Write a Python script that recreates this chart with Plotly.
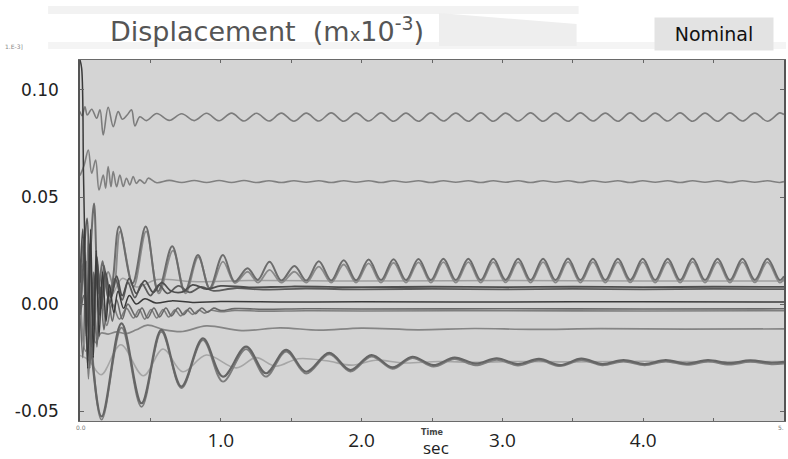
import plotly.graph_objects as go

# ---------------- data ----------------
# shared time grid for the steady oscillation section (s)
T_OSC = [
    0.545, 0.634, 0.722, 0.811, 0.899, 0.988, 1.076, 1.165, 1.253, 1.342,
    1.430, 1.519, 1.607, 1.696, 1.784, 1.873, 1.961, 2.050, 2.138, 2.227,
    2.315, 2.404, 2.492, 2.581, 2.669, 2.758, 2.846, 2.935, 3.023, 3.112,
    3.200, 3.289, 3.377, 3.466, 3.554, 3.643, 3.731, 3.820, 3.908, 3.997,
    4.085, 4.174, 4.262, 4.351, 4.439, 4.528, 4.616, 4.705, 4.793, 4.882,
    4.970, 5.000]

# top line (~0.087)
A_EARLY_T = [0.000, 0.015, 0.035, 0.052, 0.083, 0.118, 0.142, 0.165, 0.200, 0.236,
             0.271, 0.302, 0.335, 0.366, 0.390, 0.425, 0.472]
A_EARLY_V = [0.0900, 0.0880, 0.0922, 0.0883, 0.0910, 0.0868, 0.0907, 0.0790, 0.0919, 0.0829,
             0.0899, 0.0863, 0.0883, 0.0907, 0.0832, 0.0875, 0.0857]
A_STEADY = [
    0.0890, 0.0858, 0.0889, 0.0857, 0.0891, 0.0856, 0.0892, 0.0855, 0.0891, 0.0855,
    0.0892, 0.0854, 0.0892, 0.0855, 0.0893, 0.0854, 0.0892, 0.0855, 0.0893, 0.0854,
    0.0892, 0.0854, 0.0893, 0.0855, 0.0892, 0.0854, 0.0893, 0.0854, 0.0892, 0.0855,
    0.0893, 0.0854, 0.0892, 0.0854, 0.0893, 0.0855, 0.0892, 0.0854, 0.0893, 0.0854,
    0.0892, 0.0855, 0.0893, 0.0854, 0.0892, 0.0854, 0.0893, 0.0855, 0.0892, 0.0854,
    0.0893, 0.0885]

# second line (~0.057)
B_EARLY_T = [0.000, 0.030, 0.059, 0.083, 0.111, 0.135, 0.165, 0.182, 0.200, 0.220,
             0.236, 0.260, 0.283, 0.307, 0.330, 0.354, 0.378, 0.400, 0.425, 0.460, 0.484]
B_EARLY_V = [0.0600, 0.0650, 0.0720, 0.0611, 0.0673, 0.0533, 0.0603, 0.0541, 0.0642, 0.0548,
             0.0619, 0.0548, 0.0603, 0.0549, 0.0588, 0.0557, 0.0596, 0.0564, 0.0580, 0.0564, 0.0588]
B_STEADY = [
    0.0567, 0.0578, 0.0568, 0.0577, 0.0568, 0.0577, 0.0568, 0.0577, 0.0568, 0.0576,
    0.0568, 0.0576, 0.0569, 0.0576, 0.0568, 0.0576, 0.0569, 0.0576, 0.0568, 0.0576,
    0.0569, 0.0576, 0.0568, 0.0576, 0.0569, 0.0576, 0.0568, 0.0576, 0.0569, 0.0576,
    0.0568, 0.0576, 0.0569, 0.0576, 0.0568, 0.0576, 0.0569, 0.0576, 0.0568, 0.0576,
    0.0569, 0.0576, 0.0568, 0.0576, 0.0569, 0.0576, 0.0568, 0.0576, 0.0569, 0.0576,
    0.0568, 0.0572]

# upper oscillating pair (~0.016)
U1_EARLY_T = [0.000, 0.025, 0.050, 0.075, 0.100, 0.130, 0.160, 0.200, 0.230, 0.278,
              0.373, 0.467, 0.555, 0.655, 0.744, 0.838, 0.920, 1.015, 1.098, 1.190,
              1.263, 1.346, 1.430, 1.523, 1.607]
U1_EARLY_V = [0.0000, 0.0300, -0.0080, 0.0250, 0.0470, 0.0050, 0.0200, 0.0030, 0.0097, 0.0362,
              0.0097, 0.0362, 0.0060, 0.0270, 0.0058, 0.0229, 0.0074, 0.0229, 0.0105, 0.0167,
              0.0113, 0.0198, 0.0110, 0.0178, 0.0110]
U1_STEADY = [
    0.0200, 0.0110, 0.0205, 0.0111, 0.0208, 0.0112, 0.0210,
    0.0112, 0.0211, 0.0112, 0.0212, 0.0112, 0.0212, 0.0112, 0.0212, 0.0113, 0.0212,
    0.0112, 0.0212, 0.0112, 0.0213, 0.0112, 0.0212, 0.0112, 0.0212, 0.0113, 0.0212,
    0.0112, 0.0212, 0.0112, 0.0213, 0.0112, 0.0212, 0.0112, 0.0212, 0.0113, 0.0212,
    0.0112, 0.0130]

U2_EARLY_T = [0.000, 0.030, 0.060, 0.090, 0.120, 0.150, 0.200, 0.240, 0.285, 0.380,
              0.470, 0.560, 0.660, 0.750, 0.840, 0.925, 1.015, 1.100, 1.190, 1.265,
              1.346, 1.430, 1.523, 1.607]
U2_EARLY_V = [0.0050, -0.0200, 0.0300, -0.0150, 0.0200, 0.0000, 0.0150, 0.0080, 0.0340, 0.0080,
              0.0340, 0.0050, 0.0250, 0.0050, 0.0220, 0.0070, 0.0198, 0.0098, 0.0151, 0.0100,
              0.0160, 0.0100, 0.0151, 0.0100]
U2_STEADY = [
    0.0175, 0.0100, 0.0185, 0.0100, 0.0190, 0.0100, 0.0193,
    0.0100, 0.0195, 0.0100, 0.0196, 0.0100, 0.0196, 0.0100, 0.0196, 0.0101, 0.0196,
    0.0100, 0.0196, 0.0100, 0.0197, 0.0100, 0.0196, 0.0100, 0.0196, 0.0101, 0.0196,
    0.0100, 0.0196, 0.0100, 0.0197, 0.0100, 0.0196, 0.0100, 0.0196, 0.0101, 0.0196,
    0.0100, 0.0118]

# faint flat line (~0.011)
F1_T = [0.000, 0.050, 0.100, 0.150, 0.220, 0.300, 0.400, 0.550, 0.800, 1.200, 2.000, 3.000, 4.000, 5.000]
F1_V = [0.0000, 0.0200, -0.0100, 0.0150, 0.0040, 0.0120, 0.0080, 0.0115, 0.0105, 0.0110, 0.0108, 0.0110, 0.0108, 0.0108]

# dark flat lines (~0.0075)
D1_T = [0.000, 0.020, 0.045, 0.070, 0.095, 0.120, 0.150, 0.180, 0.220, 0.260,
        0.300, 0.350, 0.400, 0.460, 0.520, 0.580, 0.650, 0.730, 0.800, 0.900,
        1.000, 1.200, 1.500, 2.000, 2.500, 3.000, 3.500, 4.000, 4.500, 5.000]
D1_V = [0.0100, 0.0350, -0.0150, 0.0280, -0.0100, 0.0220, -0.0020, 0.0150, 0.0030, 0.0130,
        0.0040, 0.0120, 0.0050, 0.0110, 0.0055, 0.0100, 0.0060, 0.0057, 0.0090, 0.0070,
        0.0085, 0.0078, 0.0082, 0.0079, 0.0081, 0.0079, 0.0081, 0.0079, 0.0081, 0.0080]
D2_T = [0.000, 0.025, 0.050, 0.080, 0.110, 0.140, 0.170, 0.210, 0.250, 0.300,
        0.340, 0.390, 0.440, 0.500, 0.560, 0.620, 0.700, 0.780, 0.860, 0.950,
        1.100, 1.300, 1.600, 2.000, 2.500, 3.000, 3.500, 4.000, 4.500, 5.000]
D2_V = [-0.0050, 0.0200, 0.0400, -0.0200, 0.0150, -0.0050, 0.0180, 0.0000, 0.0120, 0.0020,
        0.0100, 0.0030, 0.0095, 0.0040, 0.0090, 0.0050, 0.0085, 0.0055, 0.0080, 0.0062,
        0.0074, 0.0068, 0.0072, 0.0069, 0.0071, 0.0069, 0.0071, 0.0069, 0.0071, 0.0070]

# line near zero, starting from the top spike (~0.001)
M1_T = [0.000, 0.012, 0.025, 0.040, 0.055, 0.075, 0.095, 0.115, 0.135, 0.160,
        0.185, 0.210, 0.240, 0.270, 0.310, 0.350, 0.400, 0.460, 0.540, 0.650,
        0.800, 1.000, 1.500, 2.000, 3.000, 4.000, 5.000]
M1_V = [0.1140, 0.1100, 0.0600, 0.0100, -0.0300, 0.0350, -0.0250, 0.0250, -0.0150, 0.0150,
        -0.0080, 0.0090, -0.0040, 0.0060, -0.0020, 0.0040, 0.0000, 0.0025, 0.0005, 0.0015,
        0.0008, 0.0012, 0.0010, 0.0011, 0.0010, 0.0011, 0.0010]

# rippled lines (~-0.0025)
M2_T = [0.000, 0.020, 0.045, 0.070, 0.095, 0.120, 0.145, 0.170, 0.200, 0.230,
        0.260, 0.300, 0.340, 0.400, 0.440, 0.480, 0.525, 0.565, 0.610, 0.650,
        0.695, 0.735, 0.780, 0.820, 0.865, 0.905, 0.950, 1.000, 1.100, 1.300,
        1.600, 2.000, 3.000, 4.000, 5.000]
M2_V = [0.0000, -0.0250, 0.0200, -0.0300, 0.0150, -0.0200, 0.0080, -0.0120, 0.0040, -0.0080,
        0.0020, -0.0070, 0.0000, -0.0060, -0.0018, -0.0065, -0.0018, -0.0060, -0.0018, -0.0055,
        -0.0018, -0.0050, -0.0018, -0.0045, -0.0018, -0.0038, -0.0019, -0.0030, -0.0021, -0.0024,
        -0.0022, -0.0023, -0.0022, -0.0023, -0.0022]
M3_T = [0.000, 0.030, 0.060, 0.090, 0.120, 0.150, 0.190, 0.230, 0.280, 0.330,
        0.380, 0.420, 0.460, 0.505, 0.545, 0.590, 0.630, 0.675, 0.715, 0.760,
        0.800, 0.845, 0.885, 0.930, 1.000, 1.100, 1.300, 1.600, 2.000, 3.000,
        4.000, 5.000]
M3_V = [-0.0100, 0.0150, -0.0350, 0.0100, -0.0150, 0.0050, -0.0100, 0.0000, -0.0070, -0.0020,
        -0.0065, -0.0025, -0.0070, -0.0025, -0.0065, -0.0025, -0.0060, -0.0027, -0.0055, -0.0028,
        -0.0048, -0.0028, -0.0042, -0.0029, -0.0036, -0.0030, -0.0033, -0.0031, -0.0032, -0.0031,
        -0.0032, -0.0031]

# wavy line (~-0.0116)
W_T = [0.000, 0.040, 0.080, 0.110, 0.150, 0.200, 0.260, 0.330, 0.400, 0.480,
       0.600, 0.730, 0.897, 1.150, 1.420, 1.700, 2.000, 2.400, 2.800, 3.200,
       3.700, 4.300, 5.000]
W_V = [-0.0050, -0.0220, -0.0100, -0.0180, -0.0135, -0.0140, -0.0130, -0.0138, -0.0120, -0.0098,
       -0.0120, -0.0128, -0.0102, -0.0124, -0.0111, -0.0122, -0.0112, -0.0120, -0.0114, -0.0118,
       -0.0115, -0.0117, -0.0116]

# lower decaying group (~-0.027)
L_T = [0.000, 0.030, 0.153, 0.295, 0.437, 0.578, 0.720, 0.873, 1.015, 1.180,
       1.320, 1.464, 1.606, 1.770, 1.920, 2.070, 2.220, 2.360, 2.510, 2.660,
       2.810, 2.960, 3.110, 3.260, 3.410, 3.560, 3.710, 3.860, 4.010, 4.160,
       4.310, 4.460, 4.610, 4.760, 4.910, 5.000]
L1_V = [-0.0050, 0.0040, -0.0525, -0.0090, -0.0463, -0.0120, -0.0385, -0.0160, -0.0339, -0.0199,
        -0.0323, -0.0214, -0.0316, -0.0228, -0.0308, -0.0238, -0.0296, -0.0246, -0.0285, -0.0250,
        -0.0278, -0.0253, -0.0280, -0.0256, -0.0285, -0.0255, -0.0280, -0.0262, -0.0280, -0.0262,
        -0.0278, -0.0262, -0.0276, -0.0263, -0.0274, -0.0270]
L2_V = [0.0200, 0.0160, -0.0540, -0.0110, -0.0480, -0.0130, -0.0392, -0.0168, -0.0362, -0.0210,
        -0.0339, -0.0222, -0.0325, -0.0235, -0.0315, -0.0245, -0.0302, -0.0252, -0.0292, -0.0257,
        -0.0286, -0.0260, -0.0287, -0.0263, -0.0290, -0.0262, -0.0286, -0.0268, -0.0286, -0.0268,
        -0.0284, -0.0269, -0.0283, -0.0270, -0.0281, -0.0278]
L3_T = [0.000, 0.060, 0.150, 0.290, 0.450, 0.590, 0.730, 0.897, 1.110, 1.250,
        1.390, 1.550, 1.750, 1.930, 2.100, 2.300, 2.550, 2.800, 3.100, 3.500,
        4.000, 4.500, 5.000]
L3_V = [-0.0240, -0.0260, -0.0330, -0.0190, -0.0335, -0.0210, -0.0316, -0.0238, -0.0298, -0.0250,
        -0.0290, -0.0255, -0.0265, -0.0285, -0.0262, -0.0275, -0.0268, -0.0272, -0.0268, -0.0270,
        -0.0267, -0.0269, -0.0268]

Y_TICKS = [0.10, 0.05, 0.00, -0.05]
Y_LABELS = ["0.10", "0.05", "0.00", "-0.05"]
X_TICKS = [1, 2, 3, 4]
X_LABELS = ["1.0", "2.0", "3.0", "4.0"]

# ---------------- figure ----------------
fig = go.Figure()

def add_line(t, v, color, width):
    assert len(t) == len(v)
    fig.add_trace(go.Scatter(
        x=t, y=v, mode="lines", hoverinfo="skip", showlegend=False,
        line=dict(color=color, width=width, shape="spline", smoothing=1.0)))

add_line(L3_T, L3_V, "#a6a6a6", 1.6)
add_line(F1_T, F1_V, "#a0a0a0", 1.5)
add_line(A_EARLY_T + T_OSC, A_EARLY_V + A_STEADY, "#7c7c7c", 1.6)
add_line(B_EARLY_T + T_OSC, B_EARLY_V + B_STEADY, "#808080", 1.6)
add_line(W_T, W_V, "#858585", 1.7)
add_line(M3_T, M3_V, "#7e7e7e", 1.6)
add_line(M2_T, M2_V, "#686868", 1.6)
add_line(U2_EARLY_T + T_OSC[13:], U2_EARLY_V + U2_STEADY, "#8a8a8a", 1.8)
add_line(U1_EARLY_T + T_OSC[13:], U1_EARLY_V + U1_STEADY, "#6c6c6c", 2.0)
add_line(L_T, L2_V, "#7d7d7d", 1.8)
add_line(L_T, L1_V, "#656565", 2.2)
add_line(D2_T, D2_V, "#5c5c5c", 1.8)
add_line(D1_T, D1_V, "#4e4e4e", 1.8)
add_line(M1_T, M1_V, "#3a3a3a", 1.5)

L, R, T, B = 80, 2, 60, 38
W_FIG, H_FIG = 788, 459
PW, PH = W_FIG - L - R, H_FIG - T - B

def px(x):
    return (x - L) / PW

def py(y):
    return (H_FIG - B - y) / PH

fig.update_layout(
    width=W_FIG, height=H_FIG, autosize=False,
    margin=dict(l=L, r=R, t=T, b=B),
    paper_bgcolor="white", plot_bgcolor="#d4d4d4",
    showlegend=False,
    xaxis=dict(range=[0, 5], tickvals=X_TICKS, ticktext=X_LABELS,
               tickfont=dict(family="Open Sans", size=19, color="#222222"),
               ticks="inside", ticklen=3, tickcolor="#666666",
               minor=dict(ticks="inside", dtick=0.5, ticklen=3, tickcolor="#666666"),
               showgrid=False, zeroline=False, showline=True, linecolor="#6a6a6a",
               linewidth=1, mirror="ticks", ticklabelstandoff=2),
    yaxis=dict(range=[-0.0546, 0.114], tickvals=Y_TICKS, ticktext=Y_LABELS,
               tickfont=dict(family="DejaVu Sans", size=17, color="#222222"),
               ticks="inside", ticklen=4, tickcolor="#666666",
               showgrid=False, zeroline=False, showline=True, linecolor="#555555",
               linewidth=1.5, mirror="ticks", ticklabelstandoff=16),
)

# faint banner decoration behind the title
fig.add_shape(type="rect", xref="paper", yref="paper",
              x0=px(48), x1=px(580), y0=py(14), y1=py(6),
              fillcolor="#f2f2f2", line=dict(width=0), layer="below")
fig.add_shape(type="rect", xref="paper", yref="paper",
              x0=px(48), x1=px(788), y0=py(49), y1=py(42),
              fillcolor="#f4f4f4", line=dict(width=0), layer="below")
fig.add_shape(type="path", xref="paper", yref="paper",
              path=f"M {px(440)},{py(13)} L {px(578)},{py(24)} L {px(578)},{py(46)} L {px(440)},{py(46)} Z",
              fillcolor="#eeeeee", line=dict(width=0), layer="below")

def note(text, x, y, size, color, family="DejaVu Sans", xanchor="center", **kw):
    fig.add_annotation(text=text, x=px(x), y=py(y), xref="paper", yref="paper",
                       xanchor=xanchor, yanchor="middle", showarrow=False,
                       font=dict(family=family, size=size, color=color), **kw)

note("Displacement\u00a0\u00a0(m<span style='font-size:18px'>x</span>10<sup>-3</sup>)",
     108, 30, 27, "#555555", xanchor="left")
note("Nominal", 716, 34, 19, "#111111", bgcolor="#e3e3e3", width=116, height=30)
note("<b>Time</b>", 434, 432, 8, "#444444")
note("sec", 437, 447, 17, "#222222", family="Open Sans")
note("1.E-3]", 14, 47, 6, "#888888")
note("0.0", 81, 427, 6, "#777777")
note("5.", 783, 427, 6, "#777777")

fig.write_html("out.html", config={"displayModeBar": False},
               post_script="document.body.style.margin='0';document.body.style.padding='0';")
